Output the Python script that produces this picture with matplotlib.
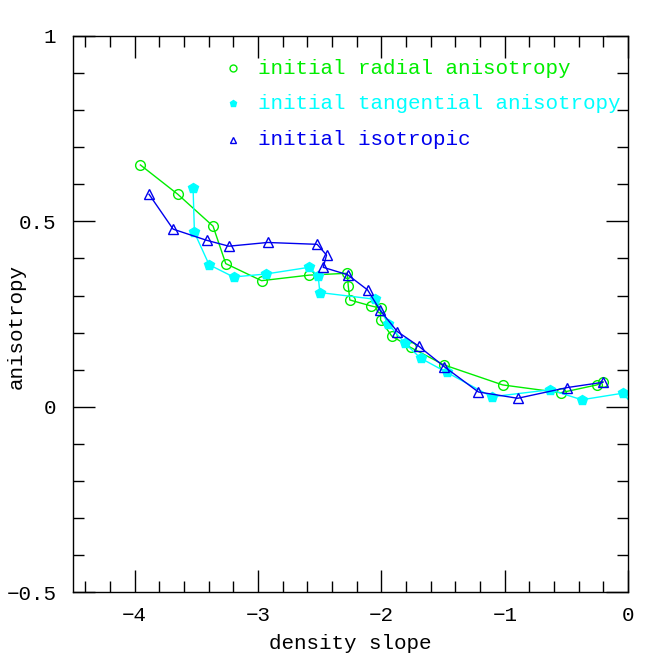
import matplotlib
matplotlib.use('Agg')
import matplotlib.pyplot as plt
from matplotlib.ticker import MultipleLocator

plt.rcParams['font.family'] = 'Liberation Mono'

# initial radial anisotropy (open circles)
radial_x = [-3.954, -3.651, -3.365, -3.262, -2.972, -2.586, -2.277, -2.269, -2.256,
            -2.085, -2.007, -2.007, -1.917, -1.763, -1.493, -1.017, -0.546, -0.254, -0.205]
radial_y = [0.652, 0.573, 0.487, 0.386, 0.340, 0.355, 0.360, 0.326, 0.288,
            0.272, 0.266, 0.234, 0.191, 0.160, 0.113, 0.059, 0.038, 0.059, 0.068]

# initial tangential anisotropy (filled pentagons)
tang_x = [-3.527, -3.516, -3.397, -3.199, -2.937, -2.588, -2.513, -2.499, -2.053,
          -1.945, -1.809, -1.682, -1.471, -1.106, -0.633, -0.376, -0.038, 0.1]
tang_y = [0.591, 0.470, 0.383, 0.350, 0.358, 0.376, 0.353, 0.308, 0.290,
          0.223, 0.171, 0.131, 0.093, 0.027, 0.046, 0.019, 0.037, -0.025]

# initial isotropic (open triangles)
iso_x = [-3.884, -3.689, -3.418, -3.237, -2.923, -2.521, -2.445, -2.472, -2.274,
         -2.112, -2.012, -1.872, -1.696, -1.490, -1.214, -0.895, -0.492, -0.205]
iso_y = [0.573, 0.479, 0.449, 0.433, 0.443, 0.438, 0.409, 0.376, 0.356,
         0.315, 0.261, 0.203, 0.163, 0.108, 0.040, 0.023, 0.052, 0.066]

labels = ['initial radial anisotropy', 'initial tangential anisotropy', 'initial isotropic']
colors = ['#00ee00', '#00ffff', '#0000ee']

fig = plt.figure(figsize=(6.64, 6.64), dpi=100)
ax = fig.add_axes([0.110, 0.108, 0.836, 0.838])

ax.plot(radial_x, radial_y, '-', color=colors[0], lw=1.0, marker='o', ms=7,
        mfc='none', mec=colors[0], mew=1.0)
ax.plot(tang_x, tang_y, '-', color=colors[1], lw=1.0, marker='p', ms=7,
        mfc=colors[1], mec=colors[1])
ax.plot(iso_x, iso_y, '-', color=colors[2], lw=1.0, marker='^', ms=7,
        mfc='none', mec=colors[2], mew=1.0)

# hand-made legend
markers = [dict(marker='o', mfc='none'), dict(marker='p', mfc=colors[1]),
           dict(marker='^', mfc='none')]
rows = [0.942, 0.879, 0.813]
for lab, col, mk, yy in zip(labels, colors, markers, rows):
    ax.plot([0.288], [yy], transform=ax.transAxes, ls='none', ms=5,
            mec=col, mew=1.0, **mk)
    ax.text(0.333, yy, lab, transform=ax.transAxes, color=col, fontsize=15,
            va='center', ha='left')

ax.set_xlim(-4.5, 0)
ax.set_ylim(-0.5, 1)
ax.xaxis.set_major_locator(MultipleLocator(1))
ax.xaxis.set_minor_locator(MultipleLocator(0.2))
ax.yaxis.set_major_locator(MultipleLocator(0.5))
ax.yaxis.set_minor_locator(MultipleLocator(0.1))
ax.tick_params(which='both', direction='in', top=True, right=True, labelsize=15,
               width=1.0, color='black')
ax.tick_params(which='major', length=16)
ax.tick_params(axis='x', which='major', pad=10)
ax.tick_params(axis='y', which='major', pad=12)
ax.tick_params(which='minor', length=8)
ax.yaxis.set_major_formatter(plt.FuncFormatter(
    lambda v, p: {1.0: '1', 0.5: '0.5', 0.0: '0', -0.5: '\u22120.5'}.get(round(v, 1), '')))
ax.xaxis.set_major_formatter(plt.FuncFormatter(
    lambda v, p: '0' if round(v) == 0 else '\u2212%d' % abs(round(v))))
for s in ax.spines.values():
    s.set_linewidth(1.0)

ax.set_xlabel('density slope', fontsize=15, labelpad=6)
ax.set_ylabel('anisotropy', fontsize=15)
ax.yaxis.set_label_coords(-0.085, 0.477)

fig.savefig('out.png', dpi=100)
